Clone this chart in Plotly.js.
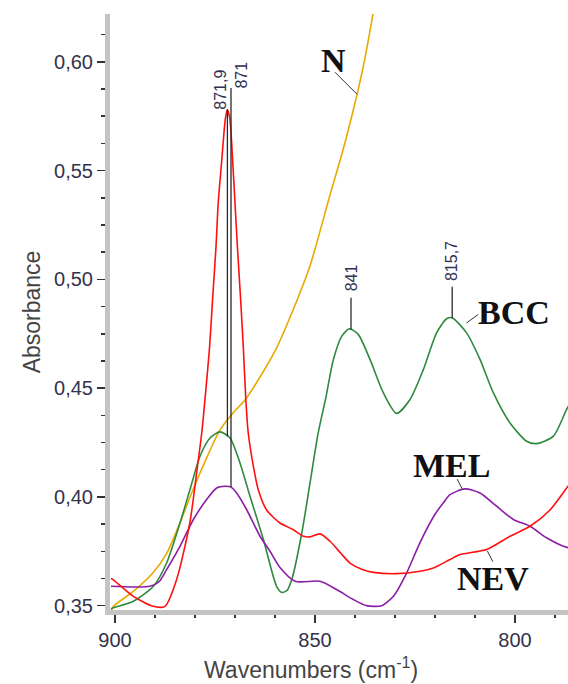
<!DOCTYPE html>
<html><head><meta charset="utf-8">
<script src="https://cdn.plot.ly/plotly-3.0.1.min.js"></script>
<style>html,body{margin:0;padding:0;background:#fff}#chart{width:568px;height:684px}</style>
</head><body><div id="chart"></div>
<script>
// ---- data (wavenumber in cm-1, absorbance) ----
const nW   = [901, 900.5, 895.5, 890.5, 887, 883.75, 880.5, 877, 873.75, 870.5, 867.5, 863.75, 859.5, 855.5, 851.25, 846.25, 843, 840, 838, 835.5, 833];
const nA   = [0.347, 0.3495, 0.3564, 0.3651, 0.3743, 0.3881, 0.4033, 0.4183, 0.4308, 0.4386, 0.4445, 0.4551, 0.4689, 0.4859, 0.5062, 0.5388, 0.5595, 0.5811, 0.5972, 0.6221, 0.65];

const bccW = [901, 900.4, 895.4, 890.4, 887.1, 883.75, 881.25, 878.75, 876.25, 873.75, 871.25, 868.75, 866.25, 862.9, 859.6, 858.3, 857, 855.8, 853.3, 851.25, 849.2, 847.3, 845.4, 843.3, 841.4, 839.2, 836.25, 832.9, 829.6, 826.25, 822.9, 819.6, 817.1, 815.7, 812.1, 808.75, 805.4, 801.25, 797.1, 794.6, 790.4, 787.1, 785];
const bccA = [0.3485, 0.349, 0.352, 0.3589, 0.3696, 0.388, 0.4034, 0.4187, 0.4271, 0.4299, 0.4271, 0.4156, 0.4003, 0.3804, 0.3589, 0.3561, 0.357, 0.362, 0.3834, 0.4064, 0.4294, 0.4455, 0.4632, 0.4739, 0.4773, 0.4747, 0.4632, 0.4478, 0.4384, 0.4448, 0.4586, 0.4754, 0.4819, 0.4823, 0.4754, 0.4632, 0.4478, 0.434, 0.4256, 0.4245, 0.4279, 0.4402, 0.447];

const melW = [901, 891.25, 889, 887.1, 883.75, 880.4, 877.1, 874.6, 872.5, 871, 869.6, 867.1, 863.75, 861.25, 858.75, 855, 848.75, 844.6, 840.4, 837.1, 833.3, 830.4, 827.1, 823.75, 820, 817.9, 816.25, 812.5, 808.75, 804.6, 800.4, 796.25, 792.1, 787.9, 785];
const melA = [0.3589, 0.3589, 0.361, 0.3666, 0.3773, 0.3896, 0.3988, 0.4041, 0.4049, 0.4045, 0.4018, 0.3942, 0.3819, 0.375, 0.3675, 0.3612, 0.3612, 0.3574, 0.3528, 0.35, 0.35, 0.3543, 0.365, 0.379, 0.392, 0.3973, 0.401, 0.4037, 0.4018, 0.3957, 0.3896, 0.3865, 0.3812, 0.3773, 0.376];

const nevW = [901, 900.5, 895.4, 890.5, 887.5, 884.6, 881.3, 879.6, 878.3, 877.5, 876.4, 875.6, 874.75, 874.2, 873.3, 872.4, 871.9, 871.3, 870.6, 870, 869.4, 868.6, 867.9, 867.3, 866.7, 865.4, 864.2, 862.1, 858.75, 855.5, 852.9, 851.25, 848.75, 846.25, 843.5, 841.25, 838, 835.4, 829.6, 823.75, 820.4, 816.25, 813.75, 807.1, 801.25, 796.25, 791.25, 786.75, 785];
const nevA = [0.3625, 0.362, 0.3543, 0.3497, 0.3497, 0.362, 0.388, 0.411, 0.4296, 0.445, 0.4678, 0.491, 0.515, 0.535, 0.555, 0.574, 0.578, 0.574, 0.555, 0.535, 0.515, 0.491, 0.468, 0.445, 0.4296, 0.414, 0.4034, 0.394, 0.388, 0.385, 0.3819, 0.3816, 0.383, 0.3796, 0.374, 0.3696, 0.3665, 0.3653, 0.3647, 0.3658, 0.3673, 0.3712, 0.3735, 0.3758, 0.3819, 0.3865, 0.394, 0.4049, 0.409];

const seriesNames = ['N', 'BCC', 'MEL', 'NEV'];
const peakWavenumbers = [871.9, 871, 841, 815.7];
const peakLabels = ['871,9', '871', '841', '815,7'];
const peakSeries = ['BCC', 'MEL', 'BCC', 'BCC'];
const labelPointW = [839.5, 812.1, 813.1, 806.9];   // where each curve's name points
const xTitle = 'Wavenumbers (cm<sup>-1</sup>)';
const yTitle = 'Absorbance';

// ---- styles ----
const seriesData = {N: [nW, nA], BCC: [bccW, bccA], MEL: [melW, melA], NEV: [nevW, nevA]};
const colors = {N: '#e8aa00', BCC: '#2f8a3f', MEL: '#8c1ea6', NEV: '#ff1010'};
const leaderLen = [327, 399, 32, 31];
const peakTextGap = [-2, -3, 4, 4];
const peakTextDx = [-7, 11, 0, 0];
// name leader: [dx px, dy px (screen, down +), start shift up px]
const nameLeader = {N: [-22, -22, 0], BCC: [11.6, -8.4, 10], MEL: [-5.4, -10.6, 0], NEV: [5.4, 10.6, -2]};
const nameOffset = {N: [-24, 34], BCC: [47, 20], MEL: [-11, 24], NEV: [6, -29]};

function interp(ws, as, w) {
  for (let i = 0; i < ws.length - 1; i++) {
    const a = ws[i], b = ws[i + 1];
    if ((w <= a && w >= b) || (w >= a && w <= b)) {
      const t = (w - a) / (b - a);
      return as[i] + t * (as[i + 1] - as[i]);
    }
  }
  return as[as.length - 1];
}

const traces = seriesNames.map(n => ({
  type: 'scatter', mode: 'lines', name: n,
  x: seriesData[n][0], y: seriesData[n][1],
  line: {color: colors[n], width: 1.6, shape: 'spline', smoothing: 0.7},
  hoverinfo: 'skip'
}));

const shapes = [];
const annotations = [];
peakWavenumbers.forEach((w, i) => {
  const s = seriesData[peakSeries[i]];
  const a = interp(s[0], s[1], w);
  shapes.push({type: 'line', xref: 'x', yref: 'y', ysizemode: 'pixel', yanchor: a,
    x0: w, x1: w, y0: 0, y1: leaderLen[i], line: {color: '#2a2a2a', width: 1.3}});
  annotations.push({x: w, y: a, xref: 'x', yref: 'y', text: peakLabels[i], showarrow: false,
    textangle: -90, xanchor: 'center', yanchor: 'bottom',
    yshift: leaderLen[i] + peakTextGap[i], xshift: peakTextDx[i],
    font: {family: 'Arial, Liberation Sans', size: 16, color: '#303050'}});
});
seriesNames.forEach((n, i) => {
  const s = seriesData[n];
  const w = labelPointW[i];
  const a = interp(s[0], s[1], w);
  const L = nameLeader[n];
  shapes.push({type: 'line', xref: 'x', yref: 'y', xsizemode: 'pixel', ysizemode: 'pixel',
    xanchor: w, yanchor: a, x0: 0, y0: L[2], x1: L[0], y1: L[2] - L[1],
    line: {color: '#333', width: 1}});
  const o = nameOffset[n];
  annotations.push({x: w, y: a, xref: 'x', yref: 'y', text: '<b>' + n + '</b>', showarrow: false,
    xanchor: 'center', yanchor: 'middle', xshift: o[0], yshift: o[1],
    font: {family: 'Liberation Serif, Times New Roman, serif', size: 34, color: '#111'}});
});
annotations.push({xref: 'paper', yref: 'paper', x: 0.439, y: -0.0973, xanchor: 'center', yanchor: 'middle',
  text: xTitle, showarrow: false, font: {family: 'Arial, Liberation Sans', size: 23, color: '#444'}});

const tickFont = {family: 'Arial, Liberation Sans', size: 20, color: '#33334d'};
const layout = {
  width: 568, height: 684,
  margin: {l: 110, r: 0, t: 14, b: 74},
  paper_bgcolor: '#fff', plot_bgcolor: '#fff',
  showlegend: false,
  separators: ',.',
  xaxis: {
    range: [901.25, 786.75], autorange: false,
    tick0: 0, dtick: 50, ticks: 'outside', ticklen: 8, tickwidth: 1.5, tickcolor: '#333',
    minor: {dtick: 10, ticks: 'outside', ticklen: 3, tickwidth: 2, tickcolor: '#333', showgrid: false},
    showline: true, linecolor: '#c4c4c4', linewidth: 5, mirror: false,
    showgrid: false, zeroline: false, tickfont: tickFont
  },
  yaxis: {
    range: [0.348, 0.622], autorange: false,
    tick0: 0, dtick: 0.05, tickformat: '.2f',
    ticks: 'outside', ticklen: 8, tickwidth: 1.5, tickcolor: '#333',
    minor: {dtick: 0.0125, ticks: 'outside', ticklen: 4, tickwidth: 1.5, tickcolor: '#333', showgrid: false},
    showline: true, linecolor: '#c4c4c4', linewidth: 5,
    showgrid: false, zeroline: false, tickfont: tickFont,
    title: {text: yTitle, font: {family: 'Arial, Liberation Sans', size: 23, color: '#444'}, standoff: 9}
  },
  shapes: shapes,
  annotations: annotations
};

Plotly.newPlot('chart', traces, layout, {displayModeBar: false, staticPlot: true});
</script>
</body></html>
